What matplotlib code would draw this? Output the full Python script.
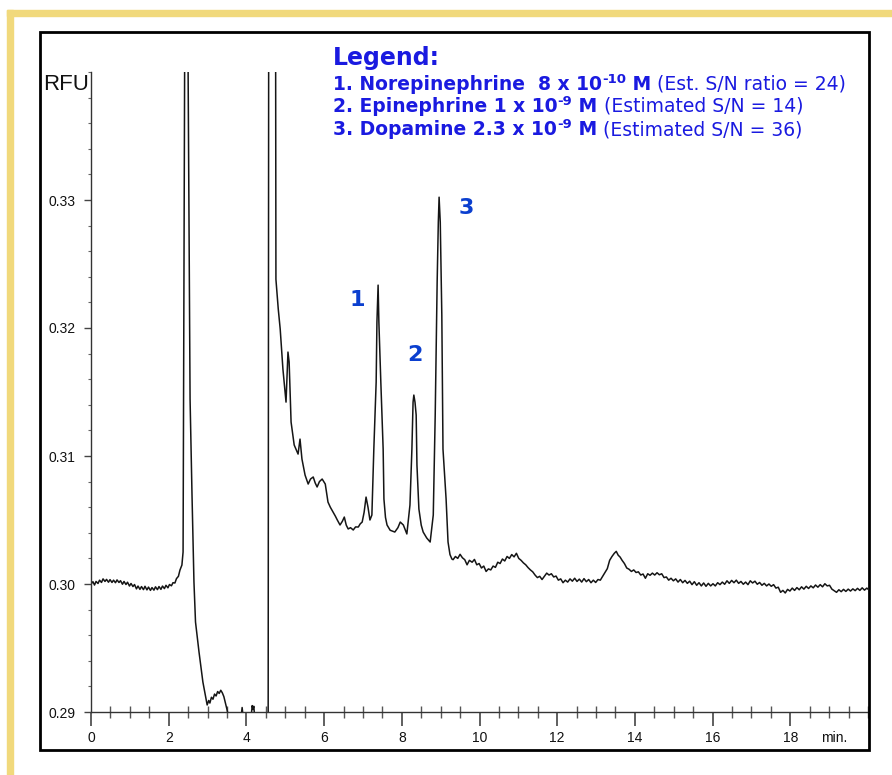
import matplotlib
matplotlib.use("Agg")
import matplotlib.pyplot as plt
from matplotlib.patches import Rectangle
from matplotlib.ticker import MultipleLocator

# ---- data (time in min, signal in RFU) ----
base_t = [0.00, 0.05, 0.09, 0.13, 0.18, 0.22, 0.27, 0.31, 0.36, 0.40, 0.45, 0.49,
          0.54, 0.58, 0.63, 0.67, 0.72, 0.76, 0.81, 0.85, 0.90, 0.94, 0.99, 1.03,
          1.08, 1.12, 1.17, 1.21, 1.26, 1.30, 1.35, 1.39, 1.44, 1.48, 1.53, 1.57,
          1.62, 1.66, 1.71, 1.75, 1.80, 1.84, 1.89, 1.93, 1.98, 2.02, 2.07, 2.11,
          2.16, 2.20, 2.25, 2.29, 2.34]
base_rfu = [0.30000, 0.30018, 0.29992, 0.30020, 0.30004, 0.30030, 0.30012, 0.30040,
            0.30020, 0.30036, 0.30014, 0.30034, 0.30012, 0.30030, 0.30010, 0.30032,
            0.30012, 0.30026, 0.29998, 0.30020, 0.29996, 0.30014, 0.29984, 0.30004,
            0.29980, 0.29996, 0.29962, 0.29984, 0.29958, 0.29980, 0.29956, 0.29982,
            0.29954, 0.29976, 0.29950, 0.29972, 0.29952, 0.29978, 0.29956, 0.29980,
            0.29958, 0.29984, 0.29964, 0.29990, 0.29970, 0.29996, 0.29986, 0.30010,
            0.30008, 0.30042, 0.30060, 0.30109, 0.30148]

# solvent front and early eluting region (off scale at both ends)
front_t = [2.37, 2.40, 2.44, 2.50, 2.55, 2.60, 2.65, 2.69, 2.78, 2.88, 2.99,
           3.03, 3.06, 3.10, 3.14, 3.18, 3.22, 3.26, 3.30, 3.34, 3.38, 3.42,
           3.46, 3.50, 3.55, 3.65, 3.80, 3.86, 3.89, 3.92, 4.05, 4.12, 4.15,
           4.17, 4.19, 4.22, 4.40, 4.56, 4.58, 4.74, 4.76, 4.82, 4.87, 4.94,
           5.02, 5.07, 5.10, 5.15, 5.23, 5.33, 5.38, 5.43, 5.51, 5.59, 5.65,
           5.72, 5.77, 5.82, 5.88, 5.95, 6.03, 6.10, 6.16, 6.23, 6.29, 6.34,
           6.41, 6.47, 6.52, 6.57, 6.62, 6.68, 6.75, 6.81, 6.88, 6.93, 6.98,
           7.03, 7.08, 7.13, 7.18, 7.23]
front_rfu = [0.30250, 0.33000, 0.37000, 0.34000, 0.31445, 0.30695, 0.30016, 0.29703,
             0.29469, 0.29234, 0.29055, 0.29090, 0.29070, 0.29115, 0.29100, 0.29140,
             0.29125, 0.29160, 0.29145, 0.29170, 0.29150, 0.29120, 0.29070, 0.29020,
             0.28950, 0.28850, 0.28800, 0.28950, 0.29035, 0.28950, 0.28850, 0.28960,
             0.29050, 0.29020, 0.29045, 0.28940, 0.28800, 0.28800, 0.37000, 0.37000,
             0.32380, 0.32148, 0.31992, 0.31679, 0.31421, 0.31812, 0.31734, 0.31265,
             0.31086, 0.31015, 0.31132, 0.30976, 0.30851, 0.30781, 0.30820, 0.30836,
             0.30790, 0.30758, 0.30800, 0.30820, 0.30781, 0.30640, 0.30600, 0.30562,
             0.30530, 0.30500, 0.30461, 0.30490, 0.30523, 0.30460, 0.30430, 0.30440,
             0.30422, 0.30446, 0.30445, 0.30470, 0.30484, 0.30560, 0.30679, 0.30600,
             0.30500, 0.30539]

# peaks 1 (norepinephrine), 2 (epinephrine), 3 (dopamine)
peaks_t = [7.28, 7.34, 7.36, 7.39, 7.41, 7.46, 7.52, 7.54, 7.58, 7.62, 7.70, 7.82,
           7.90, 7.96, 8.04, 8.13, 8.21, 8.26, 8.29, 8.31, 8.34, 8.37, 8.39, 8.44,
           8.50, 8.55, 8.64, 8.73, 8.81, 8.86, 8.91, 8.94, 8.96, 8.99, 9.03, 9.06,
           9.14, 9.19, 9.24, 9.29]
peaks_rfu = [0.31054, 0.31578, 0.32046, 0.32335, 0.32046, 0.31578, 0.31054, 0.30664,
             0.30520, 0.30461, 0.30420, 0.30406, 0.30440, 0.30484, 0.30461, 0.30391,
             0.30617, 0.31054, 0.31421, 0.31476, 0.31420, 0.31320, 0.30929, 0.30586,
             0.30460, 0.30406, 0.30360, 0.30328, 0.30539, 0.31320, 0.32359, 0.32827,
             0.33022, 0.32827, 0.32101, 0.31054, 0.30664, 0.30328, 0.30230, 0.30195]

# late baseline
tail_t = [9.32, 9.38, 9.44, 9.50, 9.56, 9.62, 9.68, 9.74, 9.81, 9.87, 9.93, 9.99,
          10.05, 10.11, 10.17, 10.23, 10.29, 10.35, 10.41, 10.47, 10.53, 10.59,
          10.65, 10.71, 10.77, 10.83, 10.89, 10.95, 11.01, 11.07, 11.13, 11.19,
          11.25, 11.31, 11.37, 11.43, 11.49, 11.55, 11.61, 11.67, 11.73, 11.79,
          11.85, 11.91, 11.97, 12.03, 12.09, 12.15, 12.21, 12.27, 12.33, 12.39,
          12.45, 12.51, 12.57, 12.63, 12.69, 12.75, 12.81, 12.87, 12.93, 12.99,
          13.05, 13.11, 13.17, 13.23, 13.29, 13.35, 13.41, 13.47, 13.52, 13.57,
          13.62, 13.67, 13.73, 13.79, 13.85, 13.91, 13.97, 14.03, 14.09, 14.15,
          14.21, 14.27, 14.33, 14.39, 14.45, 14.51, 14.57, 14.63, 14.69, 14.75,
          14.81, 14.87, 14.93, 14.99, 15.05, 15.11, 15.17, 15.23, 15.29, 15.35,
          15.41, 15.47, 15.53, 15.59, 15.65, 15.71, 15.77, 15.83, 15.89, 15.95,
          16.01, 16.07, 16.13, 16.19, 16.25, 16.31, 16.37, 16.43, 16.49, 16.55,
          16.61, 16.67, 16.73, 16.79, 16.85, 16.91, 16.97, 17.03, 17.09, 17.15,
          17.21, 17.27, 17.33, 17.39, 17.45, 17.51, 17.57, 17.63, 17.69, 17.75,
          17.81, 17.87, 17.93, 17.99, 18.05, 18.11, 18.17, 18.23, 18.29, 18.35,
          18.41, 18.47, 18.53, 18.59, 18.65, 18.71, 18.77, 18.83, 18.89, 18.95,
          19.01, 19.07, 19.13, 19.19, 19.25, 19.31, 19.37, 19.43, 19.49, 19.55,
          19.61, 19.67, 19.73, 19.79, 19.85, 19.91, 19.97, 20.00]
tail_rfu = [0.30190, 0.30215, 0.30200, 0.30232, 0.30205, 0.30190, 0.30150, 0.30185,
            0.30170, 0.30192, 0.30150, 0.30160, 0.30125, 0.30140, 0.30098, 0.30118,
            0.30110, 0.30140, 0.30130, 0.30170, 0.30160, 0.30195, 0.30180, 0.30215,
            0.30200, 0.30230, 0.30212, 0.30240, 0.30200, 0.30185, 0.30165, 0.30150,
            0.30128, 0.30110, 0.30095, 0.30070, 0.30050, 0.30060, 0.30035, 0.30060,
            0.30085, 0.30070, 0.30080, 0.30055, 0.30062, 0.30030, 0.30040, 0.30010,
            0.30030, 0.30015, 0.30040, 0.30022, 0.30045, 0.30020, 0.30038, 0.30015,
            0.30042, 0.30018, 0.30035, 0.30010, 0.30030, 0.30012, 0.30035, 0.30030,
            0.30060, 0.30090, 0.30120, 0.30185, 0.30215, 0.30240, 0.30255, 0.30225,
            0.30210, 0.30185, 0.30160, 0.30125, 0.30115, 0.30098, 0.30110, 0.30090,
            0.30095, 0.30070, 0.30078, 0.30045, 0.30080, 0.30068, 0.30085, 0.30070,
            0.30088, 0.30072, 0.30080, 0.30050, 0.30055, 0.30030, 0.30045, 0.30025,
            0.30040, 0.30015, 0.30035, 0.30010, 0.30028, 0.30005, 0.30022, 0.29995,
            0.30018, 0.29990, 0.30010, 0.29985, 0.30008, 0.29982, 0.30005, 0.29985,
            0.30002, 0.29985, 0.30010, 0.29995, 0.30015, 0.29998, 0.30025, 0.30005,
            0.30028, 0.30010, 0.30030, 0.30005, 0.30020, 0.29998, 0.30015, 0.29995,
            0.30025, 0.30008, 0.30022, 0.29998, 0.30012, 0.29990, 0.30005, 0.29985,
            0.30000, 0.29982, 0.29995, 0.29968, 0.29975, 0.29935, 0.29950, 0.29930,
            0.29958, 0.29945, 0.29968, 0.29950, 0.29972, 0.29955, 0.29978, 0.29960,
            0.29982, 0.29965, 0.29985, 0.29970, 0.29992, 0.29975, 0.29995, 0.29978,
            0.30002, 0.29985, 0.29990, 0.29960, 0.29948, 0.29935, 0.29955, 0.29940,
            0.29958, 0.29942, 0.29960, 0.29945, 0.29962, 0.29948, 0.29966, 0.29950,
            0.29970, 0.29952, 0.29968, 0.29960]

y_ticks = [0.29, 0.30, 0.31, 0.32, 0.33]
y_labels = ["0.29", "0.30", "0.31", "0.32", "0.33"]
x_ticks = [0, 2, 4, 6, 8, 10, 12, 14, 16, 18]

peak_names = ["1", "2", "3"]
peak_label_t = [6.85, 8.34, 9.66]
peak_label_rfu = [0.3222, 0.3179, 0.3294]

legend_lines = [
    ("1. Norepinephrine  8 x 10", "-10", " M", " (Est. S/N ratio = 24)"),
    ("2. Epinephrine 1 x 10", "-9", " M", " (Estimated S/N = 14)"),
    ("3. Dopamine 2.3 x 10", "-9", " M", " (Estimated S/N = 36)"),
]

W, H = 892, 775
fig = plt.figure(figsize=(W / 100, H / 100), dpi=100)
fig.patch.set_facecolor("white")


def fx(x):
    return x / W


def fy(y):
    return 1 - y / H


# yellow frame (top and left bands visible) and black panel border
yellow = "#f1d97c"
fig.patches.append(Rectangle((fx(7), fy(16)), 1, 6 / H, transform=fig.transFigure,
                             color=yellow, zorder=0))
fig.patches.append(Rectangle((fx(7), 0), 6 / W, fy(10), transform=fig.transFigure,
                             color=yellow, zorder=0))
fig.patches.append(Rectangle((fx(40), fy(750)), (869 - 40) / W, (750 - 32) / H,
                             transform=fig.transFigure, fill=False, ec="black",
                             lw=2, zorder=1))

ax = fig.add_axes([fx(91), fy(712), (868 - 91) / W, (712 - 72) / H])
ax.set_facecolor("none")

t_all = base_t + front_t + peaks_t + tail_t
rfu_all = base_rfu + front_rfu + peaks_rfu + tail_rfu
ax.plot(t_all, rfu_all, color="#151515", lw=1.1)

ax.set_xlim(0, 20)
ax.set_ylim(0.29, 0.34)
for s in ["top", "right"]:
    ax.spines[s].set_visible(False)
for s in ["left", "bottom"]:
    ax.spines[s].set_color("#333333")
    ax.spines[s].set_linewidth(1.0)

tick_font = {"family": "Liberation Sans", "size": 10}
ax.set_xticks(x_ticks)
ax.set_xticklabels([str(v) for v in x_ticks], fontdict=tick_font)
ax.set_yticks(y_ticks)
ax.set_yticklabels(y_labels, fontdict=tick_font)
ax.xaxis.set_minor_locator(MultipleLocator(0.5))
ax.yaxis.set_minor_locator(MultipleLocator(0.002))
ax.tick_params(axis="x", which="major", direction="out", length=10, width=1.2,
               color="#444444", pad=4, labelcolor="#111111")
ax.tick_params(axis="x", which="minor", direction="inout", length=8, width=1.0,
               color="#555555")
ax.tick_params(axis="y", which="major", direction="out", length=5, width=1.0,
               color="#444444", pad=6, labelcolor="#111111")
ax.tick_params(axis="y", which="minor", direction="out", length=2.5, width=0.8,
               color="#666666")

ax.text(-0.003, 0.98, "RFU", transform=ax.transAxes, ha="right", va="center",
        family="Liberation Sans", fontsize=16, color="#111111")
ax.text(0.956, -0.041, "min.", transform=ax.transAxes, ha="center", va="center",
        family="Liberation Sans", fontsize=10, color="#111111")

for name, pt, pr in zip(peak_names, peak_label_t, peak_label_rfu):
    ax.text(pt, pr, name, ha="center", va="center", fontsize=16,
            fontweight="bold", color="#0b3fcf", family="DejaVu Sans")

# legend block, written piece by piece so weights and superscripts can mix
blue = "#1a1ae0"
renderer = fig.canvas.get_renderer()


def text_width(s, **kw):
    t = fig.text(0, 0, s + "l", **kw)
    w1 = t.get_window_extent(renderer).width
    t.remove()
    t = fig.text(0, 0, "l", **kw)
    w2 = t.get_window_extent(renderer).width
    t.remove()
    return w1 - w2


fig.text(fx(333), fy(65), "Legend:", fontsize=17, fontweight="bold", color=blue,
         family="DejaVu Sans", va="baseline")

line_y = [90, 112, 135]
for (bold_txt, sup, unit, rest), yb in zip(legend_lines, line_y):
    x = 333
    pieces = [(bold_txt, "bold", 13.5, 0), (sup, "bold", 9.5, 7),
              (unit, "bold", 13.5, 0), (rest, "normal", 13.5, 0)]
    for s, wt, size, dy in pieces:
        kw = dict(fontsize=size, fontweight=wt, color=blue, family="DejaVu Sans",
                  va="baseline")
        fig.text(fx(x), fy(yb - dy), s, **kw)
        x += text_width(s, **kw)

fig.savefig("out.png", dpi=100)
